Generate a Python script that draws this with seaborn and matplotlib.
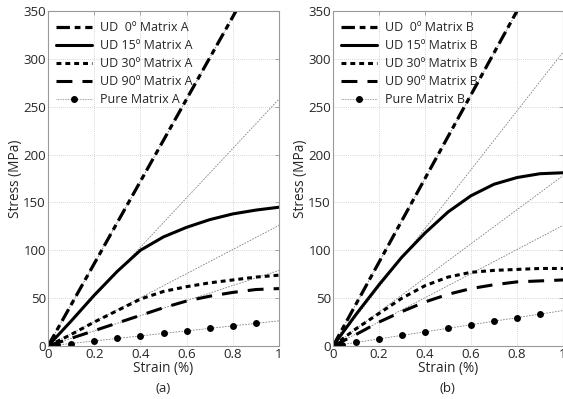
import matplotlib
matplotlib.use("Agg")
import matplotlib.pyplot as plt
import seaborn as sns
import pandas as pd
import numpy as np

sns.set_theme(style="white")
plt.rcParams['font.family'] = ['Open Sans', 'DejaVu Sans']

strain = [0.0, 0.1, 0.2, 0.3, 0.4, 0.5, 0.6, 0.7, 0.8, 0.9, 1.0]

# Panel (a) — Matrix A
ud0_a_strain = [0.0, 0.814]
ud0_a = [0.0, 350.0]
ud15_a = [0, 26, 53, 78, 100, 114, 124, 132, 138, 142, 145]
ud30_a = [0, 12, 25, 37, 49, 57, 62, 66, 69, 72, 74]
ud90_a = [0, 8, 16, 24, 32, 40, 47, 52, 56, 59, 60]
pure_strain = [0.0, 0.01, 0.02, 0.03, 0.04, 0.1, 0.2, 0.3, 0.4, 0.5, 0.6, 0.7, 0.8, 0.9]
pure_a = [0.0, 0.26, 0.52, 0.78, 1.04, 2.6, 5.3, 7.9, 10.5, 13.1, 15.8, 18.4, 21.0, 23.6]
ref_end_a = [430, 258, 126, 79, 26.3]   # thin elastic extension lines, stress at strain = 1

# Panel (b) — Matrix B
ud0_b_strain = [0.0, 0.80]
ud0_b = [0.0, 350.0]
ud15_b = [0, 33, 64, 93, 118, 140, 157, 169, 176, 180, 181]
ud30_b = [0, 18, 34, 50, 63, 72, 77, 79, 80, 81, 81]
ud90_b = [0, 12, 25, 36, 46, 54, 60, 64, 67, 68, 69]
pure_b = [0.0, 0.37, 0.74, 1.11, 1.48, 3.7, 7.4, 11.1, 14.8, 18.5, 22.2, 25.9, 29.6, 33.3]
ref_end_b = [437, 307, 178, 126, 37]

x_ticks = [0, 0.2, 0.4, 0.6, 0.8, 1]
x_ticklabels = ["0", "0.2", "0.4", "0.6", "0.8", "1"]
y_ticks = [0, 50, 100, 150, 200, 250, 300, 350]

fig = plt.figure(figsize=(5.63, 3.99), dpi=100)
ax_a = fig.add_axes([48/563, 1-346/399, 231/563, 335/399])
ax_b = fig.add_axes([333/563, 1-346/399, 230/563, 335/399])

LS0 = (0, (4.2, 1.5, 1.8, 1.5))
LS30 = (0, (1.6, 1.3))
LS90 = (0, (5.2, 3.3))

def draw(ax, tag, ud0x, ud0, ud15, ud30, ud90, pure, refs):
    fs_tick = 9.5
    fs_lab = 9.8
    fs_leg = 9
    for r in refs:
        xe = min(1.0, 350.0 / r)
        df = pd.DataFrame({"x": [0.0, xe], "y": [0.0, r * xe]})
        sns.lineplot(data=df, x="x", y="y", ax=ax, color="#808080", lw=0.6,
                     linestyle=(0, (2, 1.5)), legend=False)
    d0 = pd.DataFrame({"x": ud0x, "y": ud0})
    sns.lineplot(data=d0, x="x", y="y", ax=ax, color="black", lw=2.3, linestyle=LS0,
                 label=f"UD  0º Matrix {tag}")
    d15 = pd.DataFrame({"x": strain, "y": ud15})
    sns.lineplot(data=d15, x="x", y="y", ax=ax, color="black", lw=2.2,
                 label=f"UD 15º Matrix {tag}")
    d30 = pd.DataFrame({"x": strain, "y": ud30})
    sns.lineplot(data=d30, x="x", y="y", ax=ax, color="black", lw=2.2, linestyle=LS30,
                 label=f"UD 30º Matrix {tag}")
    d90 = pd.DataFrame({"x": strain, "y": ud90})
    sns.lineplot(data=d90, x="x", y="y", ax=ax, color="black", lw=2.2, linestyle=LS90,
                 label=f"UD 90º Matrix {tag}")
    dp = pd.DataFrame({"x": pure_strain, "y": pure})
    sns.lineplot(data=dp, x="x", y="y", ax=ax, color="black", lw=0, marker="o",
                 markersize=5, markeredgewidth=0, legend=False)
    ax.plot([], [], color="#808080", lw=0.6, linestyle=(0, (1, 1)), marker="o",
            markerfacecolor="black", markeredgecolor="black", markersize=4,
            label=f"Pure Matrix {tag}")

    ax.set_xlim(0, 1)
    ax.set_ylim(0, 350)
    ax.set_xticks(x_ticks)
    ax.set_xticklabels(x_ticklabels)
    ax.set_yticks(y_ticks)
    ax.set_xlabel("Strain (%)", fontsize=fs_lab, labelpad=0)
    ax.set_ylabel("Stress (MPa)", fontsize=fs_lab, labelpad=0)
    ax.grid(True, color="#c8c8c8", linestyle=(0, (1, 1.5)), lw=0.6)
    ax.tick_params(direction="in", top=True, right=True, length=3, width=0.6,
                   color="#999999", labelsize=fs_tick, pad=1.5)
    for s in ax.spines.values():
        s.set_color("#999999")
        s.set_linewidth(0.8)
    ax.legend(loc="upper left", frameon=False, fontsize=fs_leg, handlelength=2.9,
              handletextpad=0.6, labelspacing=0.4, borderaxespad=0.0,
              borderpad=0.0, bbox_to_anchor=(0.035, 0.97))

draw(ax_a, "A", ud0_a_strain, ud0_a, ud15_a, ud30_a, ud90_a, pure_a, ref_end_a)
draw(ax_b, "B", ud0_b_strain, ud0_b, ud15_b, ud30_b, ud90_b, pure_b, ref_end_b)

fig.text(163/563, 1-389/399, "(a)", ha="center", va="center", fontsize=9.5)
fig.text(447/563, 1-389/399, "(b)", ha="center", va="center", fontsize=9.5)

fig.savefig("out.png", dpi=100)
